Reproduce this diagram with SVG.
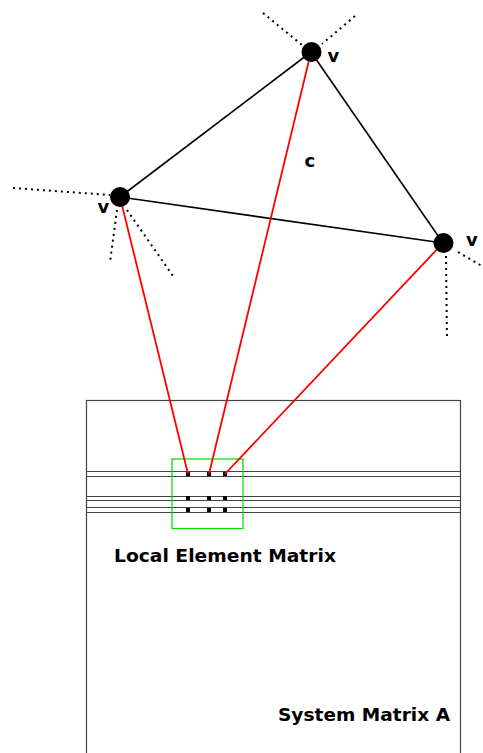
<svg xmlns="http://www.w3.org/2000/svg" width="483" height="753" viewBox="0 0 483 753">
  <style>
    .edge { stroke: #000; stroke-width: 1.6; fill: none; }
    .dots { stroke: #000; stroke-width: 2; stroke-dasharray: 2 4; fill: none; }
    .map { stroke: #ff0000; stroke-width: 1.8; fill: none; }
    .row { stroke: #444; stroke-width: 1; fill: none; }
    .lbl { font-family: "DejaVu Sans", "Liberation Sans", sans-serif; font-weight: bold; fill: #000; }
    .entry { fill: #000; }
  </style>
  <rect width="483" height="753" fill="#fff"/>

  <!-- system matrix -->
  <g id="system-matrix">
    <rect x="86.5" y="400.5" width="374" height="370" fill="none" stroke="#444" stroke-width="1.2"/>
    <line class="row" x1="86.5" y1="471.5" x2="460.5" y2="471.5"/>
    <line class="row" x1="86.5" y1="476.5" x2="460.5" y2="476.5"/>
    <line class="row" x1="86.5" y1="496.5" x2="460.5" y2="496.5"/>
    <line class="row" x1="86.5" y1="500.5" x2="460.5" y2="500.5"/>
    <line class="row" x1="86.5" y1="507.5" x2="460.5" y2="507.5"/>
    <line class="row" x1="86.5" y1="512.5" x2="460.5" y2="512.5"/>
    <text class="lbl" x="278" y="721" font-size="17" textLength="172" lengthAdjust="spacingAndGlyphs">System Matrix A</text>
  </g>

  <!-- local element matrix -->
  <g id="local-matrix">
    <rect x="172" y="459" width="71" height="69.5" fill="none" stroke="#00dd00" stroke-width="1.2"/>
    <rect class="entry" x="186" y="472" width="4" height="4"/>
    <rect class="entry" x="207" y="472" width="4" height="4"/>
    <rect class="entry" x="223" y="472" width="4" height="4"/>
    <rect class="entry" x="186" y="496" width="4" height="4"/>
    <rect class="entry" x="207" y="496" width="4" height="4"/>
    <rect class="entry" x="223" y="496" width="4" height="4"/>
    <rect class="entry" x="186" y="508" width="4" height="4"/>
    <rect class="entry" x="207" y="508" width="4" height="4"/>
    <rect class="entry" x="223" y="508" width="4" height="4"/>
    <text class="lbl" x="114" y="562" font-size="17" textLength="222" lengthAdjust="spacingAndGlyphs">Local Element Matrix</text>
  </g>

  <!-- connectors -->
  <g id="connectors">
    <line class="edge" x1="311" y1="52" x2="120" y2="197"/>
    <line class="edge" x1="311" y1="52" x2="443" y2="243"/>
    <line class="edge" x1="120" y1="197" x2="443" y2="243"/>
    <line class="dots" x1="263" y1="13" x2="302" y2="45"/>
    <line class="dots" x1="355" y1="16" x2="322" y2="44"/>
    <line class="dots" x1="13" y1="188" x2="110" y2="195"/>
    <line class="dots" x1="117" y1="210" x2="110" y2="262"/>
    <line class="dots" x1="127" y1="210" x2="173" y2="276"/>
    <line class="dots" x1="446" y1="256" x2="447" y2="340"/>
    <line class="dots" x1="458" y1="252" x2="482" y2="266"/>
    <line class="map" x1="120" y1="197" x2="188" y2="474"/>
    <line class="map" x1="311" y1="52" x2="209" y2="474"/>
    <line class="map" x1="443" y1="243" x2="225" y2="474"/>
  </g>

  <!-- mesh vertices -->
  <g id="vertex-top">
    <circle cx="311.5" cy="52" r="10" fill="#000"/>
    <text class="lbl" x="327.5" y="62" font-size="18">v</text>
  </g>
  <g id="vertex-left">
    <circle cx="120" cy="197" r="10" fill="#000"/>
    <text class="lbl" x="97.5" y="213" font-size="18">v</text>
  </g>
  <g id="vertex-right">
    <circle cx="443.5" cy="243" r="10" fill="#000"/>
    <text class="lbl" x="466" y="246" font-size="18">v</text>
  </g>
  <g id="cell">
    <text class="lbl" x="304.5" y="167" font-size="18">c</text>
  </g>
</svg>
